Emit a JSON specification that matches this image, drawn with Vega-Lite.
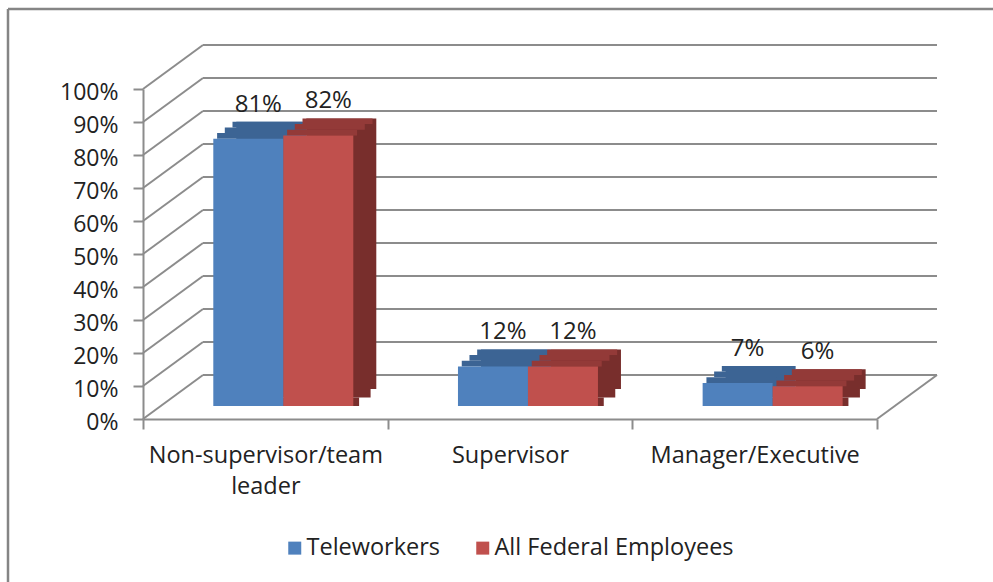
{
  "$schema": "https://vega.github.io/schema/vega-lite/v6.json",
  "autosize": "none",
  "width": 734,
  "height": 330,
  "padding": {"left": 143, "top": 89, "right": 116, "bottom": 163},
  "background": "white",
  "config": {
    "view": {"stroke": null},
    "font": "Open Sans",
    "text": {"font": "Open Sans"},
    "axis": {
      "grid": false,
      "title": null,
      "tickSize": 10,
      "tickColor": "#8c8c8c",
      "tickWidth": 2,
      "domainColor": "#8c8c8c",
      "domainWidth": 2,
      "labelFont": "Open Sans",
      "labelColor": "#222222",
      "labelOverlap": false,
      "labelLimit": 0
    },
    "axisX": {
      "tickBand": "extent",
      "labelAngle": 0,
      "labelAlign": "center",
      "labelFontSize": 23.5,
      "labelPadding": 14,
      "labelLineHeight": 31
    },
    "axisY": {
      "labelFontSize": 23,
      "labelPadding": 15,
      "labelOffset": 3
    }
  },
  "datasets": {
    "roles": [
      {"role": "Non-supervisor/team leader", "group": "Teleworkers", "pct": 0.81},
      {"role": "Non-supervisor/team leader", "group": "All Federal Employees", "pct": 0.82},
      {"role": "Supervisor", "group": "Teleworkers", "pct": 0.12},
      {"role": "Supervisor", "group": "All Federal Employees", "pct": 0.12},
      {"role": "Manager/Executive", "group": "Teleworkers", "pct": 0.07},
      {"role": "Manager/Executive", "group": "All Federal Employees", "pct": 0.06}
    ],
    "ticks": [
      {"t": 0}, {"t": 0.1}, {"t": 0.2}, {"t": 0.3}, {"t": 0.4}, {"t": 0.5},
      {"t": 0.6}, {"t": 0.7}, {"t": 0.8}, {"t": 0.9}, {"t": 1}
    ],
    "one": [{"t": 0}]
  },
  "resolve": {"scale": {"color": "independent", "xOffset": "independent"}},
  "layer": [
    {
      "data": {"name": "one"},
      "mark": {"type": "rule", "stroke": "#858585", "strokeWidth": 2.5},
      "encoding": {
        "x": {"value": -135},
        "y": {"value": -80},
        "y2": {"value": 520}
      }
    },
    {
      "data": {"name": "one"},
      "mark": {"type": "rule", "stroke": "#858585", "strokeWidth": 2.5},
      "encoding": {
        "x": {"value": -135},
        "x2": {"value": 880},
        "y": {"value": -80}
      }
    },
    {
      "data": {"name": "ticks"},
      "mark": {"type": "rule", "stroke": "#8c8c8c", "strokeWidth": 2, "yOffset": -44},
      "encoding": {
        "x": {"value": 60},
        "x2": {"value": 794},
        "y": {"field": "t", "type": "quantitative", "scale": {"domain": [0, 1], "nice": false}, "title": null, "axis": {"values": [0, 0.1, 0.2, 0.3, 0.4, 0.5, 0.6, 0.7, 0.8, 0.9, 1], "format": ".0%"}}
      }
    },
    {
      "data": {"name": "ticks"},
      "mark": {"type": "rule", "stroke": "#8c8c8c", "strokeWidth": 2, "y2Offset": -44},
      "encoding": {
        "x": {"value": 0},
        "x2": {"value": 60},
        "y": {"field": "t", "type": "quantitative", "title": null, "axis": {"values": [0, 0.1, 0.2, 0.3, 0.4, 0.5, 0.6, 0.7, 0.8, 0.9, 1], "format": ".0%"}},
        "y2": {"field": "t"}
      }
    },
    {
      "data": {"name": "one"},
      "mark": {"type": "rule", "stroke": "#8c8c8c", "strokeWidth": 2, "y2Offset": -44},
      "encoding": {
        "x": {"value": 734},
        "x2": {"value": 794},
        "y": {"field": "t", "type": "quantitative", "title": null, "axis": {"values": [0, 0.1, 0.2, 0.3, 0.4, 0.5, 0.6, 0.7, 0.8, 0.9, 1], "format": ".0%"}},
        "y2": {"field": "t"}
      }
    },
    {
      "data": {"name": "roles"},
      "mark": {"type": "bar", "yOffset": -30, "y2Offset": -30},
      "encoding": {
        "x": {"field": "role", "type": "nominal", "sort": null, "title": null, "axis": {"labelExpr": "datum.label == 'Non-supervisor/team leader' ? ['Non-supervisor/team', 'leader'] : datum.label"}},
        "xOffset": {"field": "group", "type": "nominal", "sort": ["Teleworkers", "All Federal Employees"], "scale": {"range": [93.3, 233.3], "paddingInner": 0, "paddingOuter": 0}},
        "y": {"field": "pct", "type": "quantitative", "stack": null, "title": null, "axis": {"values": [0, 0.1, 0.2, 0.3, 0.4, 0.5, 0.6, 0.7, 0.8, 0.9, 1], "format": ".0%"}},
        "y2": {"datum": 0},
        "color": {"field": "group", "type": "nominal", "sort": ["Teleworkers", "All Federal Employees"], "scale": {"range": ["#3C6494", "#782E2C"]}, "legend": null}
      }
    },
    {
      "data": {"name": "roles"},
      "mark": {"type": "bar", "yOffset": -30, "y2Offset": -21.5},
      "encoding": {
        "x": {"field": "role", "type": "nominal", "sort": null, "title": null, "axis": {"labelExpr": "datum.label == 'Non-supervisor/team leader' ? ['Non-supervisor/team', 'leader'] : datum.label"}},
        "xOffset": {"field": "group", "type": "nominal", "sort": ["Teleworkers", "All Federal Employees"], "scale": {"range": [87.6, 227.6], "paddingInner": 0, "paddingOuter": 0}},
        "y": {"datum": 0, "type": "quantitative", "title": null, "axis": {"values": [0, 0.1, 0.2, 0.3, 0.4, 0.5, 0.6, 0.7, 0.8, 0.9, 1], "format": ".0%"}},
        "y2": {"datum": 0},
        "color": {"field": "group", "type": "nominal", "sort": ["Teleworkers", "All Federal Employees"], "scale": {"range": ["#3C6494", "#782E2C"]}, "legend": null}
      }
    },
    {
      "data": {"name": "roles"},
      "mark": {"type": "bar", "yOffset": -21.5, "y2Offset": -13},
      "encoding": {
        "x": {"field": "role", "type": "nominal", "sort": null, "title": null, "axis": {"labelExpr": "datum.label == 'Non-supervisor/team leader' ? ['Non-supervisor/team', 'leader'] : datum.label"}},
        "xOffset": {"field": "group", "type": "nominal", "sort": ["Teleworkers", "All Federal Employees"], "scale": {"range": [76.1, 216.1], "paddingInner": 0, "paddingOuter": 0}},
        "y": {"datum": 0, "type": "quantitative", "title": null, "axis": {"values": [0, 0.1, 0.2, 0.3, 0.4, 0.5, 0.6, 0.7, 0.8, 0.9, 1], "format": ".0%"}},
        "y2": {"datum": 0},
        "color": {"field": "group", "type": "nominal", "sort": ["Teleworkers", "All Federal Employees"], "scale": {"range": ["#3C6494", "#782E2C"]}, "legend": null}
      }
    },
    {
      "data": {"name": "roles"},
      "mark": {"type": "bar", "yOffset": -30, "y2Offset": -24.3},
      "encoding": {
        "x": {"field": "role", "type": "nominal", "sort": null, "title": null, "axis": {"labelExpr": "datum.label == 'Non-supervisor/team leader' ? ['Non-supervisor/team', 'leader'] : datum.label"}},
        "xOffset": {"field": "group", "type": "nominal", "sort": ["Teleworkers", "All Federal Employees"], "scale": {"range": [89.5, 229.5], "paddingInner": 0, "paddingOuter": 0}},
        "y": {"field": "pct", "type": "quantitative", "stack": null, "title": null, "axis": {"values": [0, 0.1, 0.2, 0.3, 0.4, 0.5, 0.6, 0.7, 0.8, 0.9, 1], "format": ".0%"}},
        "y2": {"field": "pct"},
        "color": {"field": "group", "type": "nominal", "sort": ["Teleworkers", "All Federal Employees"], "scale": {"range": ["#3C6494", "#933A38"]}, "legend": null}
      }
    },
    {
      "data": {"name": "roles"},
      "mark": {"type": "bar", "yOffset": -24.3, "y2Offset": -18.7},
      "encoding": {
        "x": {"field": "role", "type": "nominal", "sort": null, "title": null, "axis": {"labelExpr": "datum.label == 'Non-supervisor/team leader' ? ['Non-supervisor/team', 'leader'] : datum.label"}},
        "xOffset": {"field": "group", "type": "nominal", "sort": ["Teleworkers", "All Federal Employees"], "scale": {"range": [81.8, 221.8], "paddingInner": 0, "paddingOuter": 0}},
        "y": {"field": "pct", "type": "quantitative", "stack": null, "title": null, "axis": {"values": [0, 0.1, 0.2, 0.3, 0.4, 0.5, 0.6, 0.7, 0.8, 0.9, 1], "format": ".0%"}},
        "y2": {"field": "pct"},
        "color": {"field": "group", "type": "nominal", "sort": ["Teleworkers", "All Federal Employees"], "scale": {"range": ["#3C6494", "#933A38"]}, "legend": null}
      }
    },
    {
      "data": {"name": "roles"},
      "mark": {"type": "bar", "yOffset": -18.7, "y2Offset": -13},
      "encoding": {
        "x": {"field": "role", "type": "nominal", "sort": null, "title": null, "axis": {"labelExpr": "datum.label == 'Non-supervisor/team leader' ? ['Non-supervisor/team', 'leader'] : datum.label"}},
        "xOffset": {"field": "group", "type": "nominal", "sort": ["Teleworkers", "All Federal Employees"], "scale": {"range": [74.1, 214.1], "paddingInner": 0, "paddingOuter": 0}},
        "y": {"field": "pct", "type": "quantitative", "stack": null, "title": null, "axis": {"values": [0, 0.1, 0.2, 0.3, 0.4, 0.5, 0.6, 0.7, 0.8, 0.9, 1], "format": ".0%"}},
        "y2": {"field": "pct"},
        "color": {"field": "group", "type": "nominal", "sort": ["Teleworkers", "All Federal Employees"], "scale": {"range": ["#3C6494", "#933A38"]}, "legend": null}
      }
    },
    {
      "data": {"name": "roles"},
      "mark": {"type": "bar", "yOffset": -13, "y2Offset": -13},
      "encoding": {
        "x": {
          "field": "role", "type": "nominal", "sort": null, "title": null,
          "scale": {"paddingInner": 0, "paddingOuter": 0},
          "axis": {"labelExpr": "datum.label == 'Non-supervisor/team leader' ? ['Non-supervisor/team', 'leader'] : datum.label"}
        },
        "xOffset": {"field": "group", "type": "nominal", "sort": ["Teleworkers", "All Federal Employees"], "scale": {"range": [70.3, 210.3], "paddingInner": 0, "paddingOuter": 0}},
        "y": {"field": "pct", "type": "quantitative", "stack": null, "title": null, "axis": {"values": [0, 0.1, 0.2, 0.3, 0.4, 0.5, 0.6, 0.7, 0.8, 0.9, 1], "format": ".0%"}},
        "y2": {"datum": 0},
        "color": {
          "field": "group", "type": "nominal", "sort": ["Teleworkers", "All Federal Employees"],
          "scale": {"range": ["#4F81BD", "#C0504D"]},
          "legend": {
            "title": null,
            "orient": "none",
            "legendX": 140,
            "legendY": 447,
            "direction": "horizontal",
            "symbolType": "square",
            "symbolSize": 169,
            "symbolStrokeWidth": 0,
            "labelFont": "Open Sans",
            "labelFontSize": 23.5,
            "labelColor": "#222222",
            "labelOffset": 0,
            "labelLimit": 0,
            "columnPadding": 30
          }
        }
      }
    },
    {
      "data": {"name": "roles"},
      "mark": {"type": "text", "font": "Open Sans", "fontSize": 24, "color": "#222222", "baseline": "alphabetic", "yOffset": -40},
      "encoding": {
        "x": {"field": "role", "type": "nominal", "sort": null, "title": null, "axis": {"labelExpr": "datum.label == 'Non-supervisor/team leader' ? ['Non-supervisor/team', 'leader'] : datum.label"}},
        "xOffset": {"field": "group", "type": "nominal", "sort": ["Teleworkers", "All Federal Employees"], "scale": {"range": [115.3, 185.3], "padding": 0}},
        "y": {"field": "pct", "type": "quantitative", "title": null, "axis": {"values": [0, 0.1, 0.2, 0.3, 0.4, 0.5, 0.6, 0.7, 0.8, 0.9, 1], "format": ".0%"}},
        "text": {"field": "pct", "type": "quantitative", "format": ".0%"}
      }
    }
  ]
}
